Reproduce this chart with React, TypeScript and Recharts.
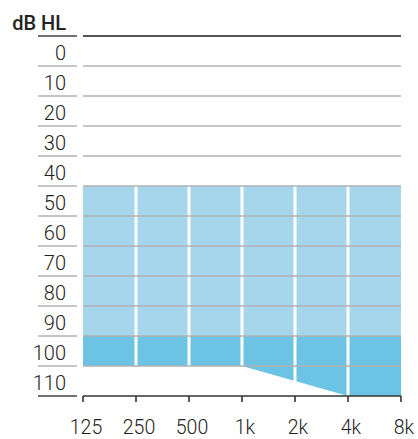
import React from "react";
import {
  ComposedChart,
  Area,
  XAxis,
  YAxis,
  ReferenceLine,
} from "recharts";

const freqLabels = ["125", "250", "500", "1k", "2k", "4k", "8k"];
const lightTop = [40, 40, 40, 40, 40, 40, 40];
const darkTop = [90, 90, 90, 90, 90, 90, 90];
const lossFloor = [100, 100, 100, 100, 105, 110, 110];
const dbTicks = [-10, 0, 10, 20, 30, 40, 50, 60, 70, 80, 90, 100, 110];

const data = freqLabels.map((f, i) => ({
  i,
  light: [lightTop[i], darkTop[i]],
  dark: [darkTop[i], lossFloor[i]],
}));

const FONT = "Roboto, 'Open Sans', sans-serif";

const YTick = (props: any) => {
  const { y, payload } = props;
  const v = payload.value;
  const edge = v === -10 || v === 110;
  return (
    <g>
      <line
        x1={38}
        x2={77}
        y1={y}
        y2={y}
        stroke={edge ? "#444" : "#b0b0b0"}
        strokeWidth={edge ? 1.6 : 1.4}
      />
      <text
        x={66}
        y={y - 6}
        textAnchor="end"
        fontFamily={FONT}
        fontSize={20}
        fontWeight={v === -10 ? 500 : 300}
        fill="#222"
      >
        {v === -10 ? "dB HL" : v}
      </text>
    </g>
  );
};

const XTick = (props: any) => {
  const { x, payload } = props;
  return (
    <text
      x={x + 3}
      y={434}
      textAnchor="middle"
      fontFamily={FONT}
      fontSize={19.5}
      fontWeight={300}
      fill="#222"
    >
      {freqLabels[payload.value]}
    </text>
  );
};

export default function App() {
  return (
    <div style={{ position: "absolute", left: 0, top: 0 }}>
      <ComposedChart
        width={418}
        height={439}
        data={data}
        margin={{ top: 36, right: 17, bottom: 0, left: 0 }}
      >
        <XAxis
          dataKey="i"
          type="number"
          domain={[0, 6]}
          ticks={[0, 1, 2, 3, 4, 5, 6]}
          tick={<XTick />}
          axisLine={{ stroke: "#333", strokeWidth: 1.6 }}
          tickLine={{ stroke: "#333", strokeWidth: 1.6 }}
          tickSize={6}
          height={43}
          interval={0}
        />
        <YAxis
          type="number"
          domain={[-10, 110]}
          ticks={dbTicks}
          reversed
          width={83}
          axisLine={false}
          tickLine={false}
          tick={<YTick />}
          interval={0}
        />
        <Area
          type="linear"
          dataKey="light"
          stroke="none"
          fill="#a6d6ec"
          fillOpacity={1}
          isAnimationActive={false}
        />
        <Area
          type="linear"
          dataKey="dark"
          stroke="none"
          fill="#6cc3e3"
          fillOpacity={1}
          isAnimationActive={false}
        />
        {[1, 2, 3, 4, 5].map((i) => (
          <ReferenceLine key={"v" + i} x={i} stroke="#fff" strokeWidth={3} />
        ))}
        {dbTicks
          .filter((v) => v > -10 && v < 110)
          .map((v) => (
            <ReferenceLine key={"h" + v} y={v} stroke="#b0b0b0" strokeWidth={1.4} />
          ))}
        <ReferenceLine y={-10} stroke="#555" strokeWidth={1.8} />
      </ComposedChart>
    </div>
  );
}
